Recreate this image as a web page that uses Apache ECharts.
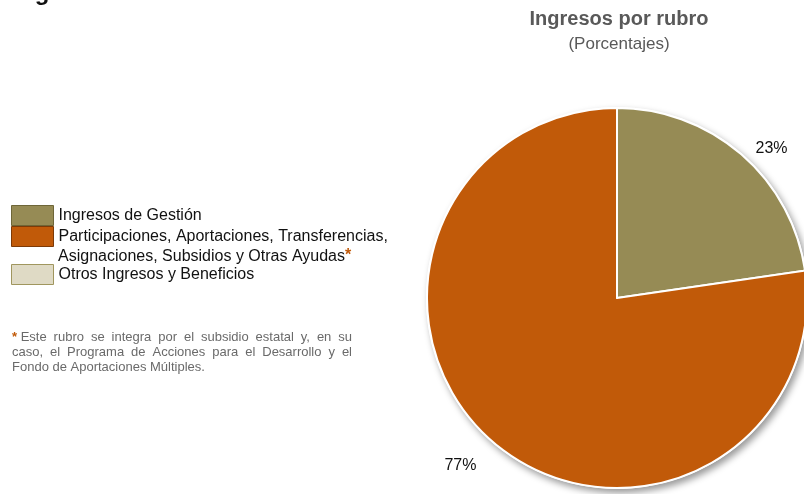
<!DOCTYPE html>
<html>
<head>
<meta charset="utf-8">
<script src="https://cdn.jsdelivr.net/npm/echarts@6/dist/echarts.min.js"></script>
<style>html,body{margin:0;padding:0;background:#fff}#c{width:804px;height:494px}</style>
</head>
<body>
<div id="c"></div>
<script>
const categories = ['Ingresos de Gestión', 'Participaciones, Aportaciones, Transferencias, Asignaciones, Subsidios y Otras Ayudas', 'Otros Ingresos y Beneficios'];
const values = [22.7, 77.3, 0];
const colors = ['#968B55', '#C15A09', '#DFDAC5'];
const borders = ['#6E6638', '#7E3A06', '#A0965E'];
const footnoteLines = [
  'Este rubro se integra por el subsidio estatal y, en su',
  'caso, el Programa de Acciones para el Desarrollo y el',
  'Fondo de Aportaciones Múltiples.'
];

const chart = echarts.init(document.getElementById('c'), null, {renderer: 'canvas'});
const total = values.reduce((a, b) => a + b, 0);
const font = '"Liberation Sans", Arial, sans-serif';

// justified footnote: build rich text with sized gaps
const fnSize = 13;
const ctx = document.createElement('canvas').getContext('2d');
ctx.font = 'bold ' + fnSize + 'px "Liberation Sans"';
const starW = ctx.measureText('*').width;
ctx.font = fnSize + 'px "Liberation Sans"';
const fnWidth = 340;
const rich = {s: {fontFamily: font, fontSize: fnSize, fontWeight: 'bold', color: '#C15A09', lineHeight: 15},
              t: {fontFamily: font, fontSize: fnSize, color: '#6A6A6A', lineHeight: 15}};
const fnText = footnoteLines.map((ln, li) => {
  const words = ln.split(' ');
  const prefixW = li === 0 ? starW + ctx.measureText(' ').width : 0;
  const wordsW = words.reduce((a, w) => a + ctx.measureText(w).width, 0);
  const last = li === footnoteLines.length - 1;
  const gap = last ? ctx.measureText(' ').width : (fnWidth - prefixW - wordsW) / (words.length - 1);
  const key = 'g' + li;
  rich[key] = {width: gap, fontSize: fnSize, lineHeight: 15};
  let s = li === 0 ? '{s|*}{t| }' : '';
  s += words.map(w => '{t|' + w + '}').join('{' + key + '| }');
  return s;
}).join('\n');

chart.setOption({
  animation: false,
  title: [
    {text: 'Origen de los recursos', left: 0, top: -19, padding: 0,
     textStyle: {fontFamily: font, fontSize: 24, fontWeight: 'bold', color: '#111', lineHeight: 24}},
    {text: 'Ingresos por rubro', subtext: '(Porcentajes)', left: 619, textAlign: 'center', top: 8, padding: 0, itemGap: 4,
     textStyle: {fontFamily: font, fontSize: 20, fontWeight: 'bold', color: '#595959', lineHeight: 22},
     subtextStyle: {fontFamily: font, fontSize: 17, color: '#595959', lineHeight: 20}},
    {text: 'Asignaciones, Subsidios y Otras Ayudas{s|*}', left: 58, top: 248, padding: 0,
     textStyle: {fontFamily: font, fontSize: 16, fontWeight: 'normal', color: '#111', lineHeight: 18,
       rich: {s: {fontFamily: font, fontSize: 16, fontWeight: 'bold', color: '#C15A09', lineHeight: 18, verticalAlign: 'top'}}}},
    {text: fnText, left: 12, top: 330, padding: 0,
     textStyle: {fontFamily: font, fontSize: fnSize, fontWeight: 'normal', color: '#6A6A6A', lineHeight: 15, rich: rich}}
  ],
  legend: [
    {orient: 'vertical', left: 11, top: 205, padding: 0, itemGap: 0, itemWidth: 42, itemHeight: 20,
     icon: 'rect', selectedMode: false,
     formatter: n => n === categories[1] ? 'Participaciones, Aportaciones, Transferencias,' : n,
     textStyle: {fontFamily: font, fontSize: 16, color: '#111'},
     data: [0, 1].map(i => ({name: categories[i], itemStyle: {color: colors[i], borderColor: borders[i], borderWidth: 1}}))},
    {orient: 'vertical', left: 11, top: 264, padding: 0, itemGap: 0, itemWidth: 42, itemHeight: 20,
     icon: 'rect', selectedMode: false,
     textStyle: {fontFamily: font, fontSize: 16, color: '#111'},
     data: [2].map(i => ({name: categories[i], itemStyle: {color: colors[i], borderColor: borders[i], borderWidth: 1}}))}
  ],
  series: [
    {type: 'pie', name: 'shadow', silent: true, center: [617, 298], radius: 191, z: 1,
     label: {show: false}, labelLine: {show: false},
     itemStyle: {color: '#fff', shadowBlur: 7, shadowOffsetX: 3, shadowOffsetY: 4, shadowColor: 'rgba(0,0,0,0.4)'},
     data: [{name: '_bg', value: total}]},
    {type: 'pie', name: 'Ingresos por rubro', center: [617, 298], radius: 190, z: 2,
     startAngle: 90, clockwise: true, percentPrecision: 0, avoidLabelOverlap: false,
     itemStyle: {borderColor: '#fff', borderWidth: 2},
     label: {show: true, position: 'outside', formatter: '{d}%', fontFamily: font, fontSize: 16, color: '#111'},
     labelLine: {show: false},
     emphasis: {disabled: true},
     data: values.map((v, i) => ({
       name: categories[i], value: v,
       itemStyle: {color: colors[i]},
       label: {show: v > 0},
       labelLine: {show: false, length: [8, 31, 10][i], length2: [4, -9, 0][i]}
     }))}
  ]
});
</script>
</body>
</html>
